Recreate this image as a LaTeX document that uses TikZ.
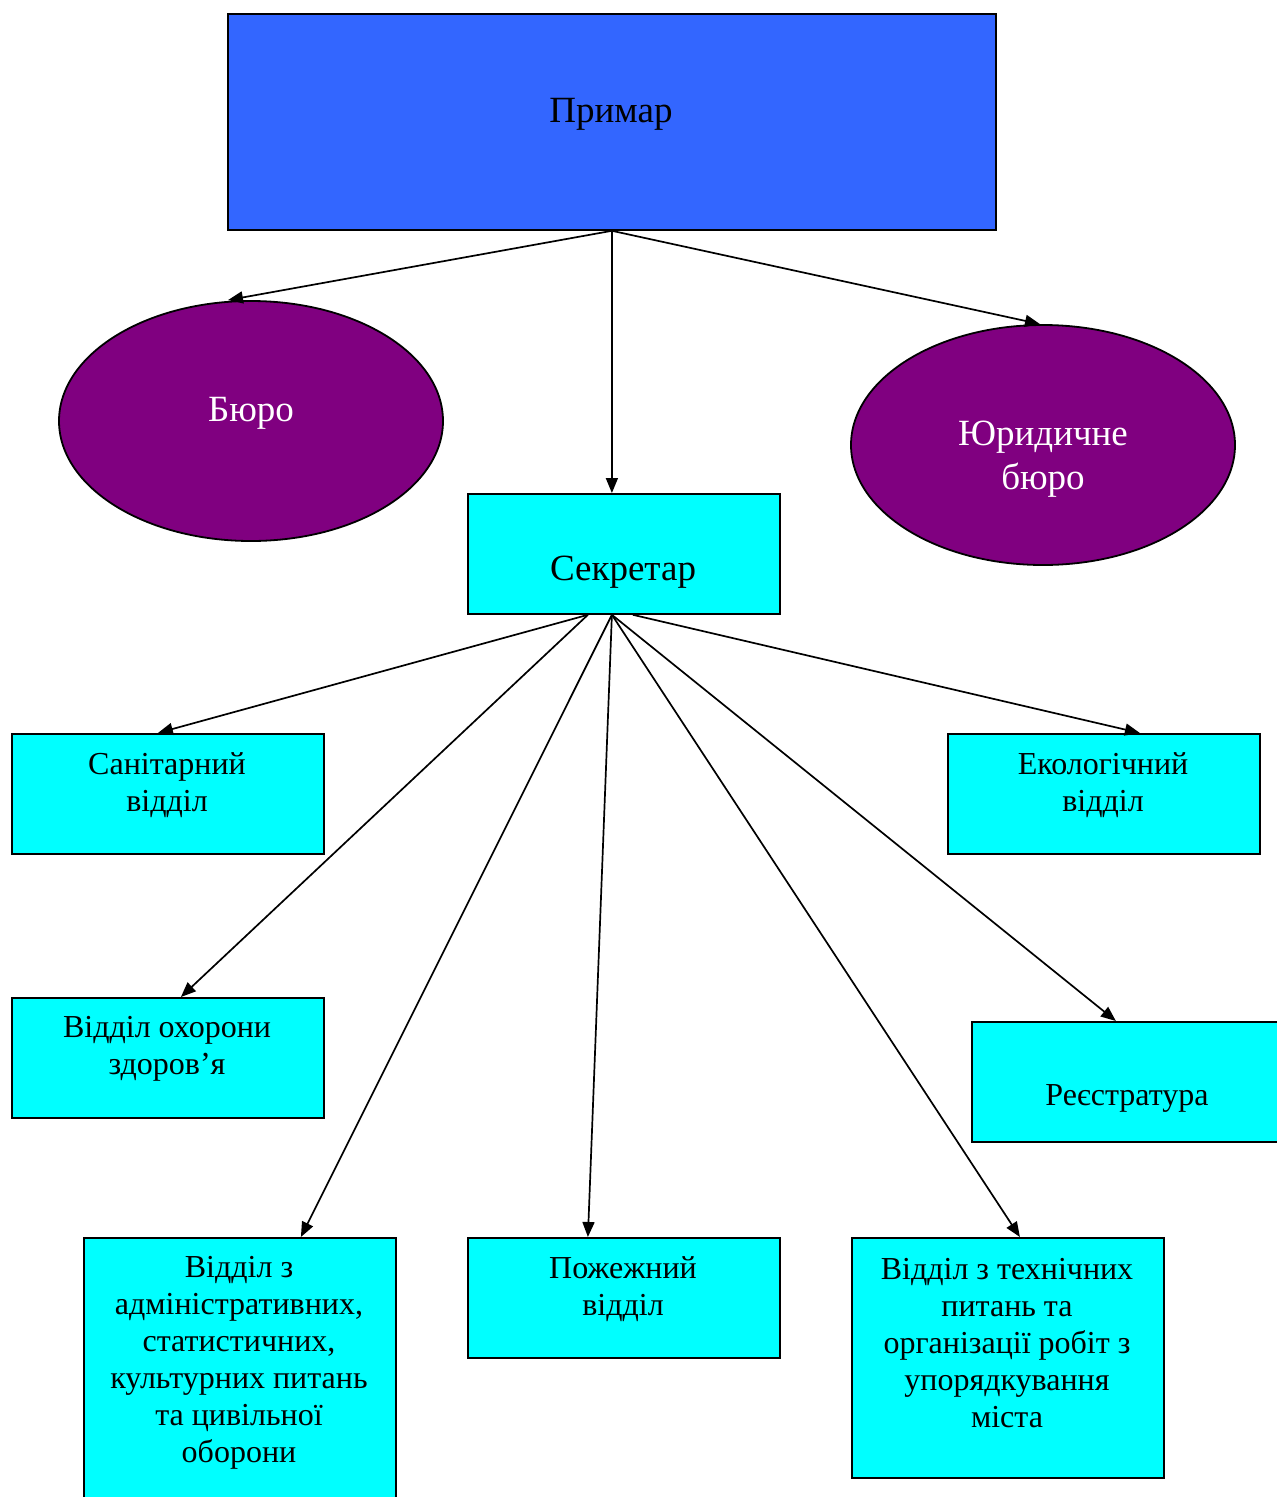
\documentclass[tikz,border=0pt]{standalone}
\usepackage{fontspec}
\setmainfont{Liberation Serif}
\usetikzlibrary{arrows.meta,shapes.geometric}
\definecolor{mayorblue}{HTML}{3366FF}
\definecolor{bureaupurple}{HTML}{800080}
\definecolor{deptcyan}{HTML}{00FFFF}
\begin{document}
\begin{tikzpicture}[x=1pt,y=-1pt,
  deptbox/.style={draw=black,line width=1.8pt,fill=deptcyan,minimum width=312pt,
    minimum height=120pt,inner sep=0pt,anchor=north west},
  bureau/.style={ellipse,draw=black,line width=1.8pt,fill=bureaupurple,
    minimum width=384pt,minimum height=240pt,inner sep=0pt},
  label/.style={font=\fontsize{32}{37}\selectfont,align=center,inner sep=0pt},
  biglabel/.style={label,font=\fontsize{37}{44}\selectfont},
  whitelabel/.style={biglabel,text=white},
  conn/.style={line width=1.7pt,-{Triangle[length=15pt,width=12pt]}}]
\useasboundingbox (0,0) rectangle (1277,1497);

% top level
\node[draw=black,line width=1.8pt,fill=mayorblue,minimum width=768pt,minimum height=216pt,
  inner sep=0pt,anchor=north west] (prim) at (227,13) {};
\node[biglabel] (primT) at (611,114) {Примар};

% bureaus
\node[bureau] (buro) at (251,421) {};
\node[whitelabel] (buroT) at (251,413) {Бюро};
\node[bureau] (yur) at (1043,445) {};
\node[whitelabel] (yurT) at (1043,459) {Юридичне\\бюро};

% secretary
\node[deptbox] (sek) at (467,493) {};
\node[biglabel] (sekT) at (623,572) {Секретар};

% departments
\node[deptbox] (san) at (11,733) {};
\node[label] (sanT) at (167,785) {Санітарний\\відділ};
\node[deptbox] (eco) at (947,733) {};
\node[label] (ecoT) at (1103,785) {Екологічний\\відділ};
\node[deptbox] (ohor) at (11,997) {};
\node[label] (ohorT) at (167,1049) {Відділ охорони\\здоров’я};
\node[deptbox] (reg) at (971,1021) {};
\node[label] (regT) at (1127,1098) {Реєстратура};
\node[deptbox,minimum height=280pt] (adm) at (83,1237) {};
\node[label] (admT) at (239,1363) {Відділ з\\адміністративних,\\статистичних,\\культурних питань\\та цивільної\\оборони};
\node[deptbox] (pozh) at (467,1237) {};
\node[label] (pozhT) at (623,1289) {Пожежний\\відділ};
\node[deptbox,minimum height=240pt] (tech) at (851,1237) {};
\node[label] (techT) at (1007,1343) {Відділ з технічних\\питань та\\організації робіт з\\упорядкування\\міста};

% connectors from the mayor
\draw[conn] (prim.south) -- ([xshift=-23pt]buro.north);
\draw[conn] (prim.south) -- ([xshift=-12pt]sek.north);
\draw[conn] (prim.south) -- ([xshift=-3pt]yur.north);

% connectors from the secretary
\coordinate (sekA) at ([xshift=-36pt]sek.south);
\coordinate (sekB) at ([xshift=-12pt]sek.south);
\coordinate (sekC) at ([xshift=9pt]sek.south);
\draw[conn] (sekA) -- ([xshift=-10pt]san.north);
\draw[conn] (sekA) -- ([xshift=13pt]ohor.north);
\draw[conn] (sekB) -- ([xshift=61pt]adm.north);
\draw[conn] (sekB) -- ([xshift=-36pt]pozh.north);
\draw[conn] (sekB) -- ([xshift=12pt]tech.north);
\draw[conn] (sekB) -- ([xshift=-12pt]reg.north);
\draw[conn] (sekC) -- ([xshift=36pt]eco.north);
\end{tikzpicture}
\end{document}
